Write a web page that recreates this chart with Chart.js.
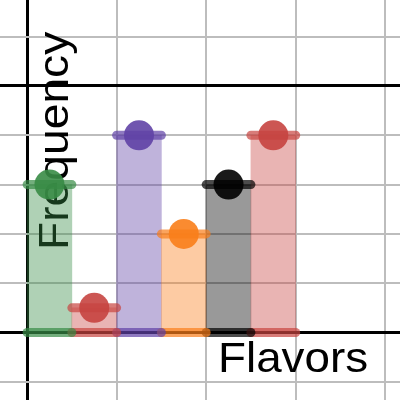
<!DOCTYPE html>
<html>
<head>
<meta charset="utf-8">
<script src="https://cdn.jsdelivr.net/npm/chart.js@4.4.1/dist/chart.umd.min.js"></script>
<style>
  html, body { margin: 0; padding: 0; background: #fff; }
  #wrap { width: 400px; height: 400px; }
</style>
</head>
<body>
<div id="wrap"><canvas id="c"></canvas></div>
<script>
// bar centres on the x axis, one per flavor
const flavorCenters = [0.5, 1.5, 2.5, 3.5, 4.5, 5.5];
const frequencies = [3, 0.5, 4, 2, 3, 4];
const flavorColors = ['#388c46', '#c74440', '#6042a6', '#fa7e19', '#000000', '#c74440'];
const xTitle = 'Flavors';
const yTitle = 'Frequency';

const BAR_WIDTH = 1;

// hex -> rgba helper
const rgba = (hex, a) => {
  const n = parseInt(hex.slice(1), 16);
  return `rgba(${(n >> 16) & 255},${(n >> 8) & 255},${n & 255},${a})`;
};

const datasets = [];

// points on top
datasets.push({
  type: 'scatter',
  data: flavorCenters.map((x, i) => ({ x, y: frequencies[i] })),
  backgroundColor: flavorColors.map(c => rgba(c, 0.9)),
  borderWidth: 0,
  pointRadius: 15,
  pointHoverRadius: 15,
  order: 1
});

// thick caps at top and bottom of each bar
flavorCenters.forEach((x, i) => {
  [frequencies[i], 0].forEach(y => {
    datasets.push({
      type: 'line',
      data: [{ x: x - BAR_WIDTH / 2, y }, { x: x + BAR_WIDTH / 2, y }],
      borderColor: rgba(flavorColors[i], 0.7),
      borderWidth: 9,
      borderCapStyle: 'round',
      pointRadius: 0,
      fill: false,
      order: 2
    });
  });
});

// the bars themselves
datasets.push({
  type: 'bar',
  data: flavorCenters.map((x, i) => ({ x, y: frequencies[i] })),
  backgroundColor: flavorColors.map(c => rgba(c, 0.4)),
  borderWidth: 0,
  barPercentage: 1,
  categoryPercentage: 1,
  order: 3
});

// axis titles, drawn under the data like the original
const axisText = {
  id: 'axisText',
  beforeDatasetsDraw(chart) {
    const c = chart.ctx;
    c.save();
    c.fillStyle = '#000';
    c.font = '42px "Liberation Sans", Arial, sans-serif';
    c.textBaseline = 'alphabetic';
    c.textAlign = 'left';

    c.save();
    c.translate(218, 372);
    c.scale(1.09, 1);
    c.fillText(xTitle, 0, 0);
    c.restore();

    c.save();
    c.translate(68, 250);
    c.rotate(-Math.PI / 2);
    c.scale(1.1, 1);
    c.fillText(yTitle, 0, 0);
    c.restore();

    c.restore();
  }
};

new Chart(document.getElementById('c'), {
  type: 'bar',
  data: { datasets },
  options: {
    responsive: true,
    maintainAspectRatio: false,
    animation: false,
    layout: { padding: 0, autoPadding: false },
    plugins: {
      legend: { display: false },
      tooltip: { enabled: false }
    },
    scales: {
      x: {
        type: 'linear',
        min: -0.605,
        max: 8.33,
        offset: false,
        afterBuildTicks: (scale) => {
          scale.ticks = scale.ticks.filter(t => Number.isInteger(t.value / 2));
        },
        ticks: { display: false, stepSize: 2, includeBounds: false },
        border: { display: false },
        grid: {
          offset: false,
          drawTicks: false,
          color: (ctx) => ctx.tick && ctx.tick.value === 0 ? '#000000' : '#bdbdbd',
          lineWidth: (ctx) => ctx.tick && ctx.tick.value === 0 ? 3 : 2
        }
      },
      y: {
        type: 'linear',
        min: -1.369,
        max: 6.744,
        afterBuildTicks: (scale) => {
          scale.ticks = scale.ticks.filter(t => Number.isInteger(t.value));
        },
        ticks: { display: false, stepSize: 1, includeBounds: false },
        border: { display: false },
        grid: {
          drawTicks: false,
          color: (ctx) => ctx.tick && (ctx.tick.value === 0 || ctx.tick.value === 5) ? '#000000' : '#bdbdbd',
          lineWidth: (ctx) => ctx.tick && (ctx.tick.value === 0 || ctx.tick.value === 5) ? 3 : 2
        }
      }
    }
  },
  plugins: [axisText]
});
</script>
</body>
</html>
